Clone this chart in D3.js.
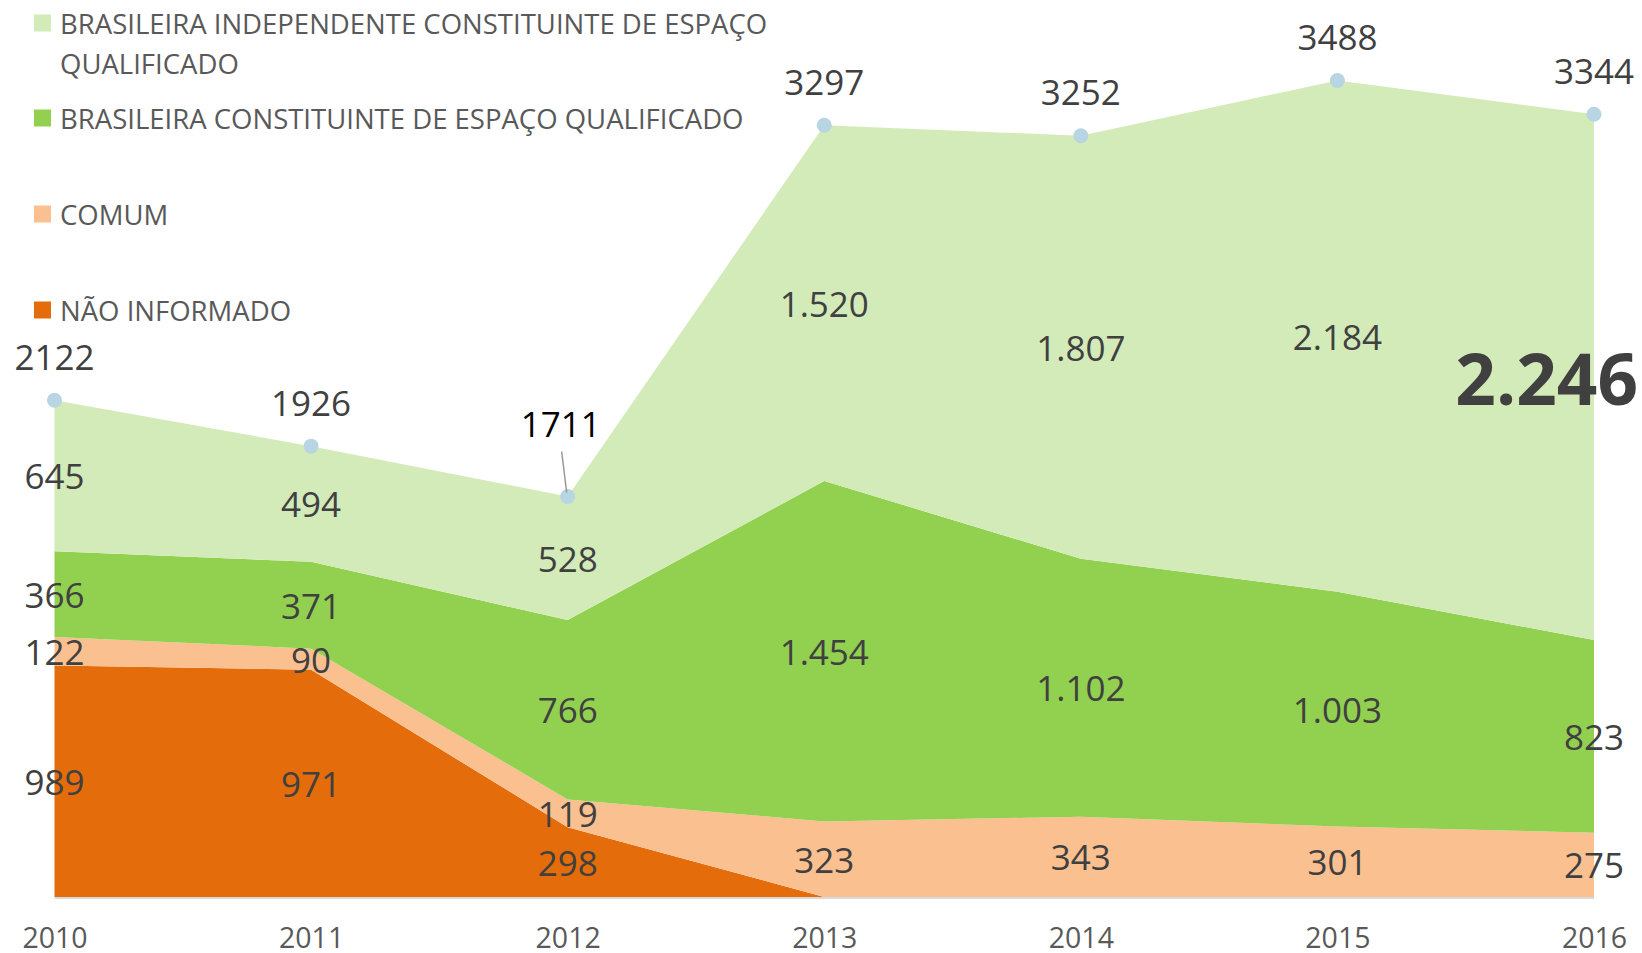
<!DOCTYPE html>
<html>
<head>
<meta charset="utf-8">
<script src="https://cdn.jsdelivr.net/npm/d3@7"></script>
<style>
  body { margin: 0; background: #fff; }
  text { font-family: "Open Sans", sans-serif; }
</style>
</head>
<body>
<div id="chart"></div>
<script>
// chart dimensions
const width = 1642;
const height = 953;

// data
const years = ["2010", "2011", "2012", "2013", "2014", "2015", "2016"];
const naoInformado = [989, 971, 298, 0, 0, 0, 0];
const comum = [122, 90, 119, 323, 343, 301, 275];
const constituinte = [366, 371, 766, 1454, 1102, 1003, 823];
const independente = [645, 494, 528, 1520, 1807, 2184, 2246];
const totals = [2122, 1926, 1711, 3297, 3252, 3488, 3344];

const seriesNames = [
  "NÃO INFORMADO",
  "COMUM",
  "BRASILEIRA CONSTITUINTE DE ESPAÇO QUALIFICADO",
  "BRASILEIRA INDEPENDENTE CONSTITUINTE DE ESPAÇO QUALIFICADO",
];
const seriesColors = ["#E46C0A", "#FAC090", "#92D050", "#D3EBB8"];
const keys = ["ni", "comum", "const", "indep"];

const rows = years.map((y, i) => ({
  year: y,
  ni: naoInformado[i],
  comum: comum[i],
  const: constituinte[i],
  indep: independente[i],
  total: totals[i],
}));

const ptFormat = d3.formatLocale({ decimal: ",", thousands: ".", grouping: [3], currency: ["R$", ""] }).format(",d");

const svg = d3.select("#chart")
  .append("svg")
  .attr("width", width)
  .attr("height", height);

// scales
const x = d3.scalePoint().domain(years).range([54.5, 1594]);
const y = d3.scaleLinear().domain([0, 3500]).range([897, 77.7]);

const stacked = d3.stack().keys(keys)(rows);

const area = d3.area()
  .x((d) => x(d.data.year))
  .y0((d) => y(d[0]))
  .y1((d) => y(d[1]));

svg.selectAll("path.layer")
  .data(stacked)
  .enter()
  .append("path")
  .attr("class", "layer")
  .attr("d", area)
  .attr("fill", (d, i) => seriesColors[i]);

// baseline
svg.append("line")
  .attr("x1", x(years[0]))
  .attr("x2", x(years[years.length - 1]))
  .attr("y1", y(0) + 1)
  .attr("y2", y(0) + 1)
  .attr("stroke", "#d9d9d9")
  .attr("stroke-width", 2);

// x axis labels (cut by the bottom edge, as in the original)
svg.append("g")
  .attr("transform", `translate(0,${y(0)})`)
  .call(d3.axisBottom(x).tickSize(0).tickPadding(31))
  .call((g) => g.select(".domain").remove())
  .selectAll("text")
  .attr("font-size", 28.5)
  .attr("font-family", "Open Sans")
  .attr("fill", "#595959");

// segment labels at the middle of each band
stacked.forEach((layer, li) => {
  layer.forEach((d, i) => {
    const v = d[1] - d[0];
    if (v === 0) return;
    const big = li === 3 && i === years.length - 1;
    svg.append("text")
      .attr("x", big ? 1638 : x(d.data.year))
      .attr("y", y((d[0] + d[1]) / 2))
      .attr("text-anchor", big ? "end" : "middle")
      .attr("dominant-baseline", "central")
      .attr("font-size", big ? 71 : 35)
      .attr("font-weight", big ? "bold" : "normal")
      .attr("fill", "#404040")
      .text(ptFormat(v));
  });
});

// total markers
svg.selectAll("circle.total")
  .data(rows)
  .enter()
  .append("circle")
  .attr("class", "total")
  .attr("cx", (d) => x(d.year))
  .attr("cy", (d) => y(d.total))
  .attr("r", 7.5)
  .attr("fill", "#B7D5E2");

// total labels (2012 is pulled up with a leader line)
rows.forEach((d, i) => {
  const moved = d.year === "2012";
  const lx = moved ? x(d.year) - 7 : x(d.year);
  const ly = moved ? y(d.total) - 73 : y(d.total) - 44;
  svg.append("text")
    .attr("x", lx)
    .attr("y", ly)
    .attr("text-anchor", "middle")
    .attr("dominant-baseline", "central")
    .attr("font-size", 35)
    .attr("fill", moved ? "#000" : "#404040")
    .text(d.total);
  if (moved) {
    svg.append("line")
      .attr("x1", lx + 1)
      .attr("y1", ly + 28)
      .attr("x2", x(d.year) - 1)
      .attr("y2", y(d.total) - 4)
      .attr("stroke", "#999")
      .attr("stroke-width", 1.5);
  }
});

// legend
const legendItems = [
  { name: seriesNames[3], color: seriesColors[3], y: 23 },
  { name: seriesNames[2], color: seriesColors[2], y: 118 },
  { name: seriesNames[1], color: seriesColors[1], y: 214 },
  { name: seriesNames[0], color: seriesColors[0], y: 310 },
];

const legend = svg.append("g");
legendItems.forEach((item) => {
  legend.append("rect")
    .attr("x", 34)
    .attr("y", item.y - 8.5)
    .attr("width", 17)
    .attr("height", 17)
    .attr("fill", item.color);
  const t = legend.append("text")
    .attr("x", 60)
    .attr("y", item.y)
    .attr("dominant-baseline", "central")
    .attr("font-size", 27.5)
    .attr("fill", "#595959");
  if (item.name.length > 50) {
    // wraps on two lines like the original
    t.append("tspan").attr("x", 60).text("BRASILEIRA INDEPENDENTE CONSTITUINTE DE ESPAÇO");
    t.append("tspan").attr("x", 60).attr("dy", 40).text("QUALIFICADO");
  } else {
    t.text(item.name);
  }
});
</script>
</body>
</html>
